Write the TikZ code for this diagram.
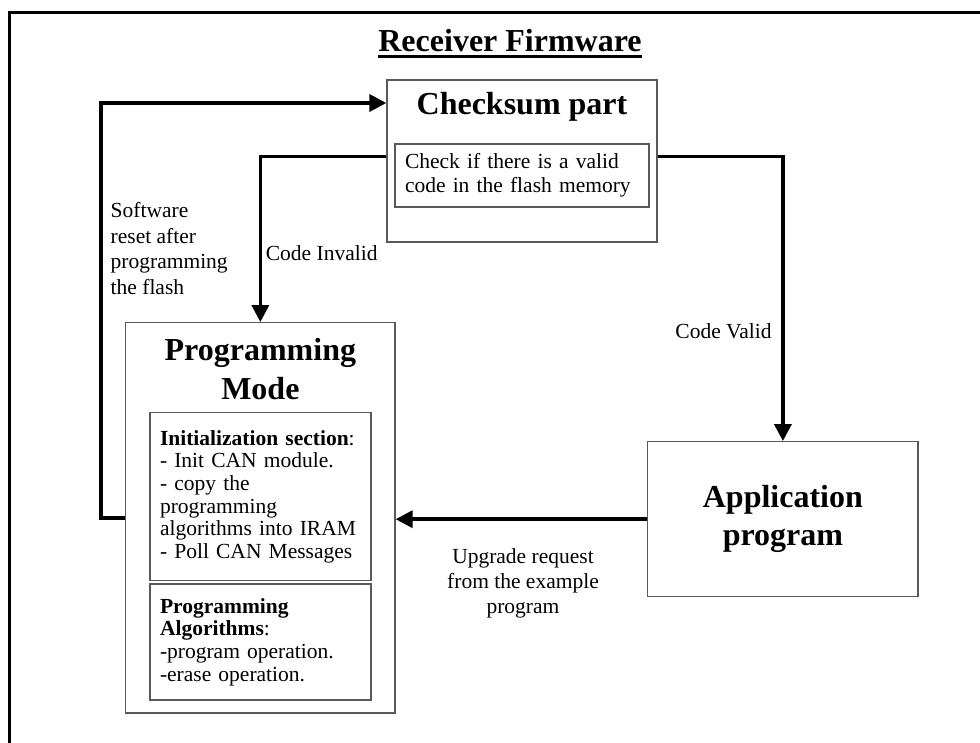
\documentclass[tikz,border=0pt]{standalone}
\usepackage{fontspec}
\setmainfont{Liberation Serif}
\usetikzlibrary{arrows.meta}
\begin{document}
\begin{tikzpicture}[x=1pt,y=-1pt,
  box/.style={draw=black!65, line width=1.3pt, rectangle, inner sep=0pt},
  txt/.style={font=\fontsize{21.5}{25}\selectfont, inner sep=0pt},
  head/.style={font=\fontsize{32}{39}\selectfont\bfseries, align=center, inner sep=0pt},
  listbox/.style={box, font=\fontsize{21.5}{22.6}\selectfont, align=left,
    text width=201pt, inner xsep=10pt, minimum width=221pt},
  flow/.style={line width=3.5pt, -{Triangle[length=17pt,width=17pt]}},
]
\useasboundingbox (0,0) rectangle (980,743);
\fill[white] (0,0) rectangle (980,743);
% outer frame (runs past the right and bottom page edges)
\draw[line width=3pt] (995,12.5) -- (9.5,12.5) -- (9.5,760);

% title
\node[head, anchor=base] (ttl) at (510,52) {Receiver Firmware};
\draw[line width=3pt] ([yshift=-5pt]ttl.base west) -- ([yshift=-5pt]ttl.base east);

% checksum block
\node[box, minimum width=270pt, minimum height=162pt] (chk) at (522,161) {};
\node[head, anchor=base] (chkT) at (522,115) {Checksum part};
\node[box, font=\fontsize{21.5}{24.3}\selectfont, align=left, text width=234pt,
  inner xsep=10pt, minimum width=254pt, minimum height=63pt] (chkIn) at (522,175.5)
  {Check if there is a valid\\code in the flash memory};

% programming mode block
\node[box, minimum width=269.3pt, minimum height=390.3pt] (pm) at (260.35,517.85) {};
\node[head] (pmT) at (260.35,369) {Programming\\Mode};
\node[listbox, minimum height=168pt] (init) at (260.5,496.7)
  {\textbf{Initialization section}:\\- Init CAN module.\\- copy the\\programming\\algorithms into IRAM\\- Poll CAN Messages};
\node[listbox, minimum height=116pt] (alg) at (260.5,642)
  {\textbf{Programming}\\\textbf{Algorithms}:\\-program operation.\\-erase operation.};

% application block
\node[box, minimum width=270.3pt, minimum height=155pt,
  font=\fontsize{32}{38}\selectfont\bfseries, align=center] (app) at (782.9,519.2)
  {Application\\program};

% connectors
\coordinate (loopL) at (101,103);
\draw[flow] (pm.west) -| (loopL) -- (loopL -| chk.west);
\draw[flow] ([yshift=4.5pt]chk.west) -| (pm.north);
\draw[flow] ([yshift=4.5pt]chk.east) -| (app.north);
\draw[flow] (app.west) -- (app.west -| pm.east);

% connector labels
\node[txt, align=left, anchor=north west, font=\fontsize{21.5}{25.5}\selectfont] (lblReset) at (110.5,202.5)
  {Software\\reset after\\programming\\the flash};
\node[txt, anchor=base west] (lblInv) at (265.7,261) {Code Invalid};
\node[txt, anchor=base] (lblVal) at (723.5,338) {Code Valid};
\node[txt, align=center] (lblUp) at (523,583) {Upgrade request\\from the example\\program};
\end{tikzpicture}
\end{document}
